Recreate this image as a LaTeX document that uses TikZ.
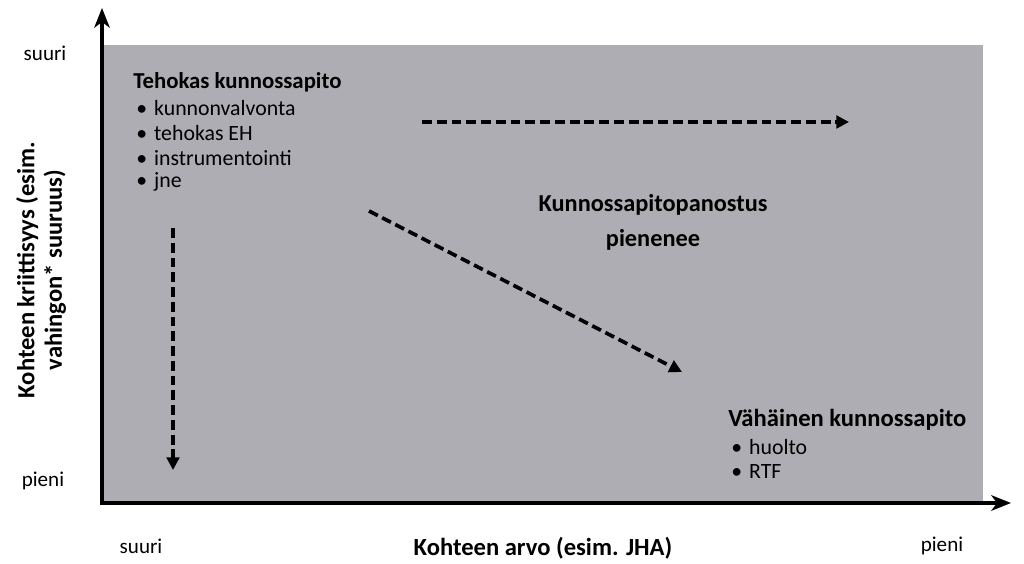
\documentclass[tikz,border=0pt]{standalone}
\usepackage{fontspec}
\setmainfont{Carlito}
\usepackage{xcolor}
\usetikzlibrary{arrows.meta,positioning}

\definecolor{fieldgray}{RGB}{173,173,179}
\tikzset{
  axis/.style={line width=2.2pt,-{Stealth[length=14pt,width=11pt,inset=4pt]}},
  trend/.style={line width=2.6pt,dash pattern=on 7pt off 3.5pt,-{Triangle[length=9pt,width=9pt]}},
  lbl/.style={font=\fontsize{15}{18}\selectfont,inner sep=0pt},
  head/.style={font=\fontsize{16.2}{19}\selectfont\bfseries,inner sep=0pt,anchor=west},
  item/.style={font=\fontsize{15.5}{18}\selectfont,inner sep=0pt,anchor=west},
}

\begin{document}
\begin{tikzpicture}[x=0.025cm,y=0.025cm]
\useasboundingbox (0,0) rectangle (1024,564);
\fill[fieldgray] (103,61) rectangle (983,519);
% axes
\coordinate (origin) at (102,61);
\coordinate (ytip) at (102,556);
\coordinate (xtip) at (1011,61);
\draw[axis] (origin) -- (ytip);
\draw[axis] ([xshift=-1.1pt]origin) -- (xtip);
% scale labels
\node[lbl] (ytop) at (45,511) {suuri};
\node[lbl] (ybot) at (43,83) {pieni};
\node[lbl] (xleft) at (141,18) {suuri};
\node[lbl] (xright) at (942,18) {pieni};
\node[lbl,font=\fontsize{17.5}{20}\selectfont\bfseries] (xname) at (543,16) {Kohteen arvo (esim. JHA)};
\node[lbl,font=\fontsize{17.5}{19.5}\selectfont\bfseries,rotate=90,align=center] (yname) at (41,294)
  {Kohteen kriittisyys (esim.\\vahingon* suuruus)};
% upper left corner
\node[head] (hi) at (133,482) {Tehokas kunnossapito};
\node[item] (hi1) at (136,456) {•\hspace{5pt}kunnonvalvonta};
\node[item] (hi2) at (136,431) {•\hspace{5pt}tehokas EH};
\node[item] (hi3) at (136,406) {•\hspace{5pt}instrumentointi};
\node[item] (hi4) at (136,382) {•\hspace{5pt}jne};
% middle
\node[head,anchor=center,align=center,font=\fontsize{17.3}{25}\selectfont\bfseries] (trendtxt) at (653,342)
  {Kunnossapitopanostus\\pienenee};
% lower right corner
\node[head,font=\fontsize{17.5}{20}\selectfont\bfseries] (lo) at (728,144) {Vähäinen kunnossapito};
\node[item] (lo1) at (731,117) {•\hspace{5pt}huolto};
\node[item] (lo2) at (731,92) {•\hspace{5pt}RTF};
% dashed trends
\coordinate (ha) at (422,442);
\coordinate (hb) at (849,442);
\coordinate (da) at (369,353);
\coordinate (db) at (682,192);
\coordinate (va) at (173,336);
\coordinate (vb) at (173,94);
\draw[trend] (ha) -- (hb);
\draw[trend] (da) -- (db);
\draw[trend] (va) -- (vb);
\end{tikzpicture}
\end{document}
